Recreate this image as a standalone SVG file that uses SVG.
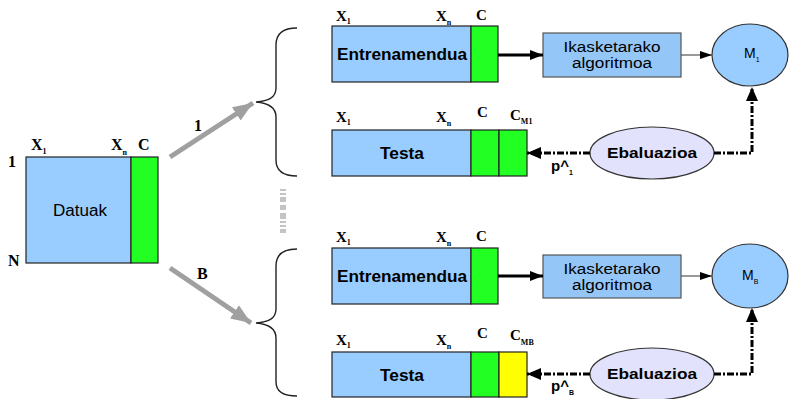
<svg xmlns="http://www.w3.org/2000/svg" width="789" height="399" viewBox="0 0 789 399">
  <style>
    .blue { fill: #99ccff; stroke: #222; stroke-width: 1.2; }
    .green { fill: #22ff22; stroke: #222; stroke-width: 1.2; }
    .yellow { fill: #ffff00; stroke: #222; stroke-width: 1.2; }
    .algo { fill: #94c6f7; stroke: #555; stroke-width: 1.2; }
    .model { fill: #99ccff; stroke: #333; stroke-width: 1.2; }
    .eval { fill: #e2e2fc; stroke: #333; stroke-width: 1.2; }
    .brace { fill: none; stroke: #222; stroke-width: 1.4; }
    .lab { font-family: "Liberation Serif", "Times New Roman", serif; font-weight: bold; font-size: 16px; fill: #000; }
    .sm { font-size: 15px; }
    .sub { font-size: 8px; }
    .sans { font-family: "Liberation Sans", Arial, sans-serif; fill: #000; }
    .bold { font-weight: bold; }
    .split { stroke: #a0a0a0; stroke-width: 5; fill: none; }
    .thick { stroke: #000; stroke-width: 3; fill: none; }
    .thin { stroke: #555; stroke-width: 1.2; fill: none; }
    .dash { stroke: #000; stroke-width: 3; fill: none; stroke-dasharray: 7 2 2 2; }
    .dots { fill: #c4c4c4; }
  </style>
  <defs>
    <marker id="grayHead" markerUnits="userSpaceOnUse" markerWidth="22" markerHeight="18" refX="20" refY="9" orient="auto">
      <path d="M0,1 L20,9 L0,17 z" fill="#a0a0a0"/>
    </marker>
    <marker id="bigHead" markerUnits="userSpaceOnUse" markerWidth="14" markerHeight="12" refX="13" refY="6" orient="auto">
      <path d="M0,1 L13,6 L0,11 z" fill="#000"/>
    </marker>
    <marker id="smallHead" markerUnits="userSpaceOnUse" markerWidth="13" markerHeight="10" refX="12" refY="5" orient="auto">
      <path d="M0,1 L12,5 L0,9 z" fill="#000"/>
    </marker>
    <marker id="dashHead" markerUnits="userSpaceOnUse" markerWidth="15" markerHeight="14" refX="14" refY="7" orient="auto">
      <path d="M0,1 L14,7 L0,13 z" fill="#000"/>
    </marker>
  </defs>

  <!-- Full data set -->
  <g id="datuak">
    <rect class="blue" x="26" y="157" width="105" height="106"/>
    <rect class="green" x="131" y="157" width="27" height="106"/>
    <text class="sans" x="80" y="216" font-size="16" text-anchor="middle" textLength="54" lengthAdjust="spacingAndGlyphs">Datuak</text>
    <text class="lab" x="31" y="150">X<tspan class="sub" dy="4">1</tspan></text>
    <text class="lab" x="111" y="150">X<tspan class="sub" dy="5">n</tspan></text>
    <text class="lab" x="138" y="150">C</text>
    <text class="lab" x="8" y="167">1</text>
    <text class="lab" x="8" y="266">N</text>
  </g>

  <!-- Braces grouping each partition -->
  <g id="brace-1">
    <path class="brace" d="M297,28 C284,28 276,33 276,45 L276,88 C276,98 268,101 256,102 C268,103 276,107 276,117 L276,160 C276,171 284,176 297,176"/>
  </g>
  <g id="brace-B">
    <path class="brace" d="M297,249 C284,249 276,254 276,266 L276,309 C276,319 268,322 256,323 C268,324 276,328 276,338 L276,382 C276,392 284,396 297,396"/>
  </g>

  <!-- Ellipsis between partitions -->
  <g id="ellipsis">
    <rect class="dots" x="280" y="189" width="6" height="2"/>
    <rect class="dots" x="280" y="193" width="6" height="2"/>
    <rect class="dots" x="280" y="197" width="6" height="5"/>
    <rect class="dots" x="280" y="205" width="6" height="5"/>
    <rect class="dots" x="280" y="213" width="6" height="6"/>
    <rect class="dots" x="280" y="221" width="6" height="2"/>
    <rect class="dots" x="280" y="225" width="6" height="2"/>
    <rect class="dots" x="280" y="229" width="6" height="4"/>
  </g>

  <!-- Partition 1 -->
  <g id="train-1">
    <rect class="blue" x="332" y="26" width="139" height="56"/>
    <rect class="green" x="471" y="26" width="27" height="56"/>
    <text class="sans bold" x="402" y="60" font-size="16" text-anchor="middle" textLength="130" lengthAdjust="spacingAndGlyphs">Entrenamendua</text>
    <text class="lab sm" x="336" y="21">X<tspan class="sub" dy="3">1</tspan></text>
    <text class="lab sm" x="436" y="21">X<tspan class="sub" dy="4">n</tspan></text>
    <text class="lab sm" x="476" y="20">C</text>
  </g>
  <g id="test-1">
    <rect class="blue" x="332" y="130" width="139" height="46"/>
    <rect class="green" x="471" y="130" width="28" height="46"/>
    <rect class="green" x="499" y="130" width="28" height="46"/>
    <text class="sans bold" x="402" y="159" font-size="16" text-anchor="middle" textLength="44" lengthAdjust="spacingAndGlyphs">Testa</text>
    <text class="lab sm" x="336" y="122">X<tspan class="sub" dy="3">1</tspan></text>
    <text class="lab sm" x="436" y="122">X<tspan class="sub" dy="4">n</tspan></text>
    <text class="lab sm" x="477" y="117">C</text>
    <text class="lab sm" x="510" y="120">C<tspan class="sub" dy="4">M1</tspan></text>
  </g>
  <g id="algo-1">
    <rect class="algo" x="543" y="33" width="138" height="44"/>
    <text class="sans" x="612" y="52" font-size="14" text-anchor="middle" textLength="97" lengthAdjust="spacingAndGlyphs">Ikasketarako</text>
    <text class="sans" x="612" y="68" font-size="14" text-anchor="middle" textLength="80" lengthAdjust="spacingAndGlyphs">algoritmoa</text>
  </g>
  <g id="model-1">
    <ellipse class="model" cx="750" cy="55" rx="38" ry="31"/>
    <text class="sans" x="744" y="58" font-size="14">M<tspan font-size="7" dy="4">1</tspan></text>
  </g>
  <g id="eval-1">
    <ellipse class="eval" cx="652" cy="153" rx="62" ry="26"/>
    <text class="sans bold" x="652" y="158" font-size="15" text-anchor="middle" textLength="90" lengthAdjust="spacingAndGlyphs">Ebaluazioa</text>
  </g>

  <!-- Partition B -->
  <g id="train-B">
    <rect class="blue" x="332" y="248" width="139" height="56"/>
    <rect class="green" x="471" y="248" width="27" height="56"/>
    <text class="sans bold" x="402" y="282" font-size="16" text-anchor="middle" textLength="130" lengthAdjust="spacingAndGlyphs">Entrenamendua</text>
    <text class="lab sm" x="336" y="242">X<tspan class="sub" dy="3">1</tspan></text>
    <text class="lab sm" x="436" y="242">X<tspan class="sub" dy="4">n</tspan></text>
    <text class="lab sm" x="476" y="241">C</text>
  </g>
  <g id="test-B">
    <rect class="blue" x="332" y="352" width="139" height="45"/>
    <rect class="green" x="471" y="352" width="28" height="45"/>
    <rect class="yellow" x="499" y="352" width="28" height="45"/>
    <text class="sans bold" x="402" y="381" font-size="16" text-anchor="middle" textLength="44" lengthAdjust="spacingAndGlyphs">Testa</text>
    <text class="lab sm" x="336" y="345">X<tspan class="sub" dy="3">1</tspan></text>
    <text class="lab sm" x="436" y="345">X<tspan class="sub" dy="4">n</tspan></text>
    <text class="lab sm" x="477" y="338">C</text>
    <text class="lab sm" x="510" y="340">C<tspan class="sub" dy="5">MB</tspan></text>
  </g>
  <g id="algo-B">
    <rect class="algo" x="543" y="255" width="138" height="43"/>
    <text class="sans" x="612" y="274" font-size="14" text-anchor="middle" textLength="97" lengthAdjust="spacingAndGlyphs">Ikasketarako</text>
    <text class="sans" x="612" y="290" font-size="14" text-anchor="middle" textLength="80" lengthAdjust="spacingAndGlyphs">algoritmoa</text>
  </g>
  <g id="model-B">
    <ellipse class="model" cx="750" cy="276" rx="38" ry="32"/>
    <text class="sans" x="742" y="280" font-size="14">M<tspan font-size="7" dy="4">B</tspan></text>
  </g>
  <g id="eval-B">
    <ellipse class="eval" cx="652" cy="374" rx="62" ry="26"/>
    <text class="sans bold" x="652" y="379" font-size="15" text-anchor="middle" textLength="90" lengthAdjust="spacingAndGlyphs">Ebaluazioa</text>
  </g>

  <!-- Connectors -->
  <g id="connectors">
    <line class="split" x1="170" y1="157" x2="253" y2="103" marker-end="url(#grayHead)"/>
    <line class="split" x1="170" y1="268" x2="251" y2="323" marker-end="url(#grayHead)"/>
    <text class="lab" x="194" y="131">1</text>
    <text class="lab" x="197" y="279">B</text>

    <line class="thick" x1="498" y1="55" x2="543" y2="55" marker-end="url(#bigHead)"/>
    <line class="thin" x1="681" y1="55" x2="712" y2="55" marker-end="url(#smallHead)"/>
    <line class="dash" x1="590" y1="153" x2="527" y2="153" marker-end="url(#dashHead)"/>
    <polyline class="dash" points="714,153 752,153 752,87" marker-end="url(#dashHead)"/>
    <text class="sans bold" x="551" y="171" font-size="15">p^<tspan font-size="7" dy="4">1</tspan></text>

    <line class="thick" x1="498" y1="276" x2="543" y2="276" marker-end="url(#bigHead)"/>
    <line class="thin" x1="681" y1="276" x2="712" y2="276" marker-end="url(#smallHead)"/>
    <line class="dash" x1="590" y1="374" x2="527" y2="374" marker-end="url(#dashHead)"/>
    <polyline class="dash" points="714,374 752,374 752,308" marker-end="url(#dashHead)"/>
    <text class="sans bold" x="551" y="391" font-size="15">p^<tspan font-size="7" dy="4">B</tspan></text>
  </g>
</svg>
